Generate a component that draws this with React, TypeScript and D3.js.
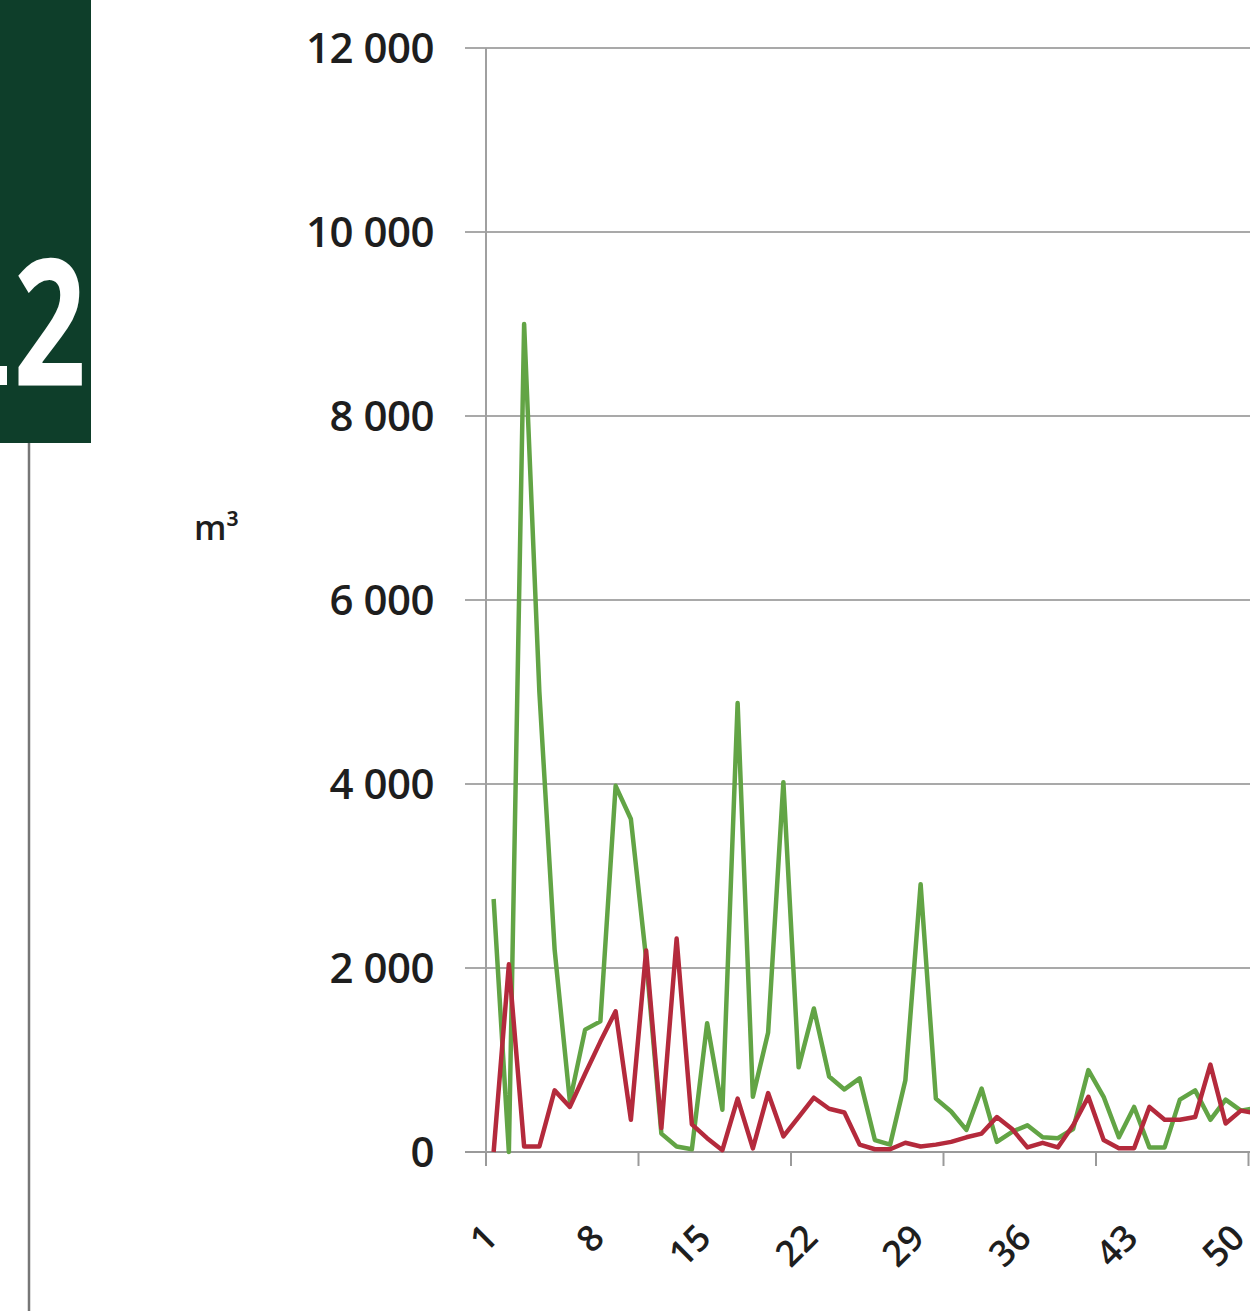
import React, { useEffect, useRef } from "react";
import * as d3 from "d3";

const categories: number[] = Array.from({ length: 51 }, (_, i) => i + 1);

const greenSeries: number[] = [
  2750, 0, 9000, 5000, 2200, 550, 1330, 1420, 3980, 3620,
  2100, 200, 60, 30, 1400, 460, 4880, 600, 1300, 4020,
  920, 1560, 820, 680, 800, 130, 80, 780, 2910, 580,
  440, 240, 690, 110, 220, 290, 160, 150, 250, 890,
  600, 160, 490, 50, 50, 570, 670, 350, 570, 450, 480,
];

const redSeries: number[] = [
  0, 2040, 60, 60, 670, 490, 850, 1200, 1530, 350,
  2190, 260, 2320, 300, 150, 20, 580, 40, 640, 170,
  380, 590, 470, 430, 80, 30, 30, 100, 60, 80,
  110, 160, 200, 380, 250, 50, 100, 50, 290, 600,
  130, 40, 40, 490, 350, 350, 380, 950, 310, 450, 420,
];

const yTicks: number[] = [0, 2000, 4000, 6000, 8000, 10000, 12000];
const xLabelCats: number[] = [1, 8, 15, 22, 29, 36, 43, 50];
const xTickBoundaries: number[] = [0, 10, 20, 30, 40, 50];

const W = 1250;
const H = 1311;

export default function App() {
  const ref = useRef<SVGSVGElement | null>(null);

  useEffect(() => {
    const svg = d3.select(ref.current);
    svg.selectAll("*").remove();

    const x0 = 486;
    const step = 15.25;
    const nCats = 52;
    const top = 48;
    const bottom = 1152;

    const xb = d3.scaleLinear().domain([0, nCats]).range([x0, x0 + nCats * step]);
    const xc = (n: number) => xb(n - 0.5);
    const y = d3.scaleLinear().domain([0, 12000]).range([bottom, top]);

    // left decoration
    svg.append("rect").attr("x", 0).attr("y", 0).attr("width", 91).attr("height", 443).attr("fill", "#0e3e2a");
    svg.append("text")
      .attr("transform", "translate(86,385) scale(0.72,1)")
      .attr("text-anchor", "end")
      .attr("font-family", "Open Sans, sans-serif")
      .attr("font-weight", 700)
      .attr("font-size", 176)
      .attr("fill", "#ffffff")
      .text("2");
    svg.append("rect").attr("x", 0).attr("y", 366).attr("width", 7).attr("height", 19).attr("fill", "#ffffff");
    svg.append("line").attr("x1", 29).attr("x2", 29).attr("y1", 443).attr("y2", H)
      .attr("stroke", "#777").attr("stroke-width", 2.5);

    // gridlines
    svg.append("g").selectAll("line").data(yTicks).join("line")
      .attr("x1", 465).attr("x2", W + 50)
      .attr("y1", (d) => y(d)).attr("y2", (d) => y(d))
      .attr("stroke", (d) => (d === 0 ? "#9a9a9a" : "#a9a9a9"))
      .attr("stroke-width", 2);

    // vertical axis
    svg.append("line").attr("x1", x0).attr("x2", x0).attr("y1", top).attr("y2", bottom)
      .attr("stroke", "#a0a0a0").attr("stroke-width", 2);

    // x tick marks
    svg.append("g").selectAll("line").data(xTickBoundaries).join("line")
      .attr("x1", (d) => xb(d)).attr("x2", (d) => xb(d))
      .attr("y1", bottom).attr("y2", bottom + 14)
      .attr("stroke", "#9a9a9a").attr("stroke-width", 2);

    // y labels
    svg.append("g").selectAll("text").data(yTicks).join("text")
      .attr("x", 434).attr("y", (d) => y(d))
      .attr("dy", "0.36em")
      .attr("text-anchor", "end")
      .attr("font-family", "Open Sans, sans-serif")
      .attr("font-weight", 600)
      .attr("font-size", 42)
      .attr("letter-spacing", -0.5)
      .attr("fill", "#1e1e1e")
      .text((d) => (d === 0 ? "0" : d3.format(",")(d).replace(/,/g, " ")));

    // unit label
    svg.append("text")
      .attr("x", 194).attr("y", 540)
      .attr("font-family", "Open Sans, sans-serif")
      .attr("font-weight", 600)
      .attr("font-size", 34)
      .attr("fill", "#1e1e1e")
      .text("m³");

    // x labels
    svg.append("g").selectAll("text").data(xLabelCats).join("text")
      .attr("transform", (d) => `translate(${xc(d) + 6},${1240}) rotate(-45)`)
      .attr("text-anchor", "end")
      .attr("font-family", "Open Sans, sans-serif")
      .attr("font-weight", 600)
      .attr("font-size", 36)
      .attr("fill", "#1e1e1e")
      .text((d) => String(d));

    const line = d3.line<number>()
      .x((_, i) => xc(categories[i]))
      .y((d) => y(d))
      .curve(d3.curveLinear);

    svg.append("path").datum(greenSeries)
      .attr("d", line)
      .attr("fill", "none")
      .attr("stroke", "#62a445")
      .attr("stroke-width", 4.5)
      .attr("stroke-linejoin", "round");

    svg.append("path").datum(redSeries)
      .attr("d", line)
      .attr("fill", "none")
      .attr("stroke", "#b42a3c")
      .attr("stroke-width", 4.5)
      .attr("stroke-linejoin", "round");
  }, []);

  return (
    <div style={{ position: "absolute", left: 0, top: 0, width: W, height: H, background: "#fff" }}>
      <svg ref={ref} width={W} height={H} style={{ display: "block", overflow: "hidden" }} />
    </div>
  );
}
